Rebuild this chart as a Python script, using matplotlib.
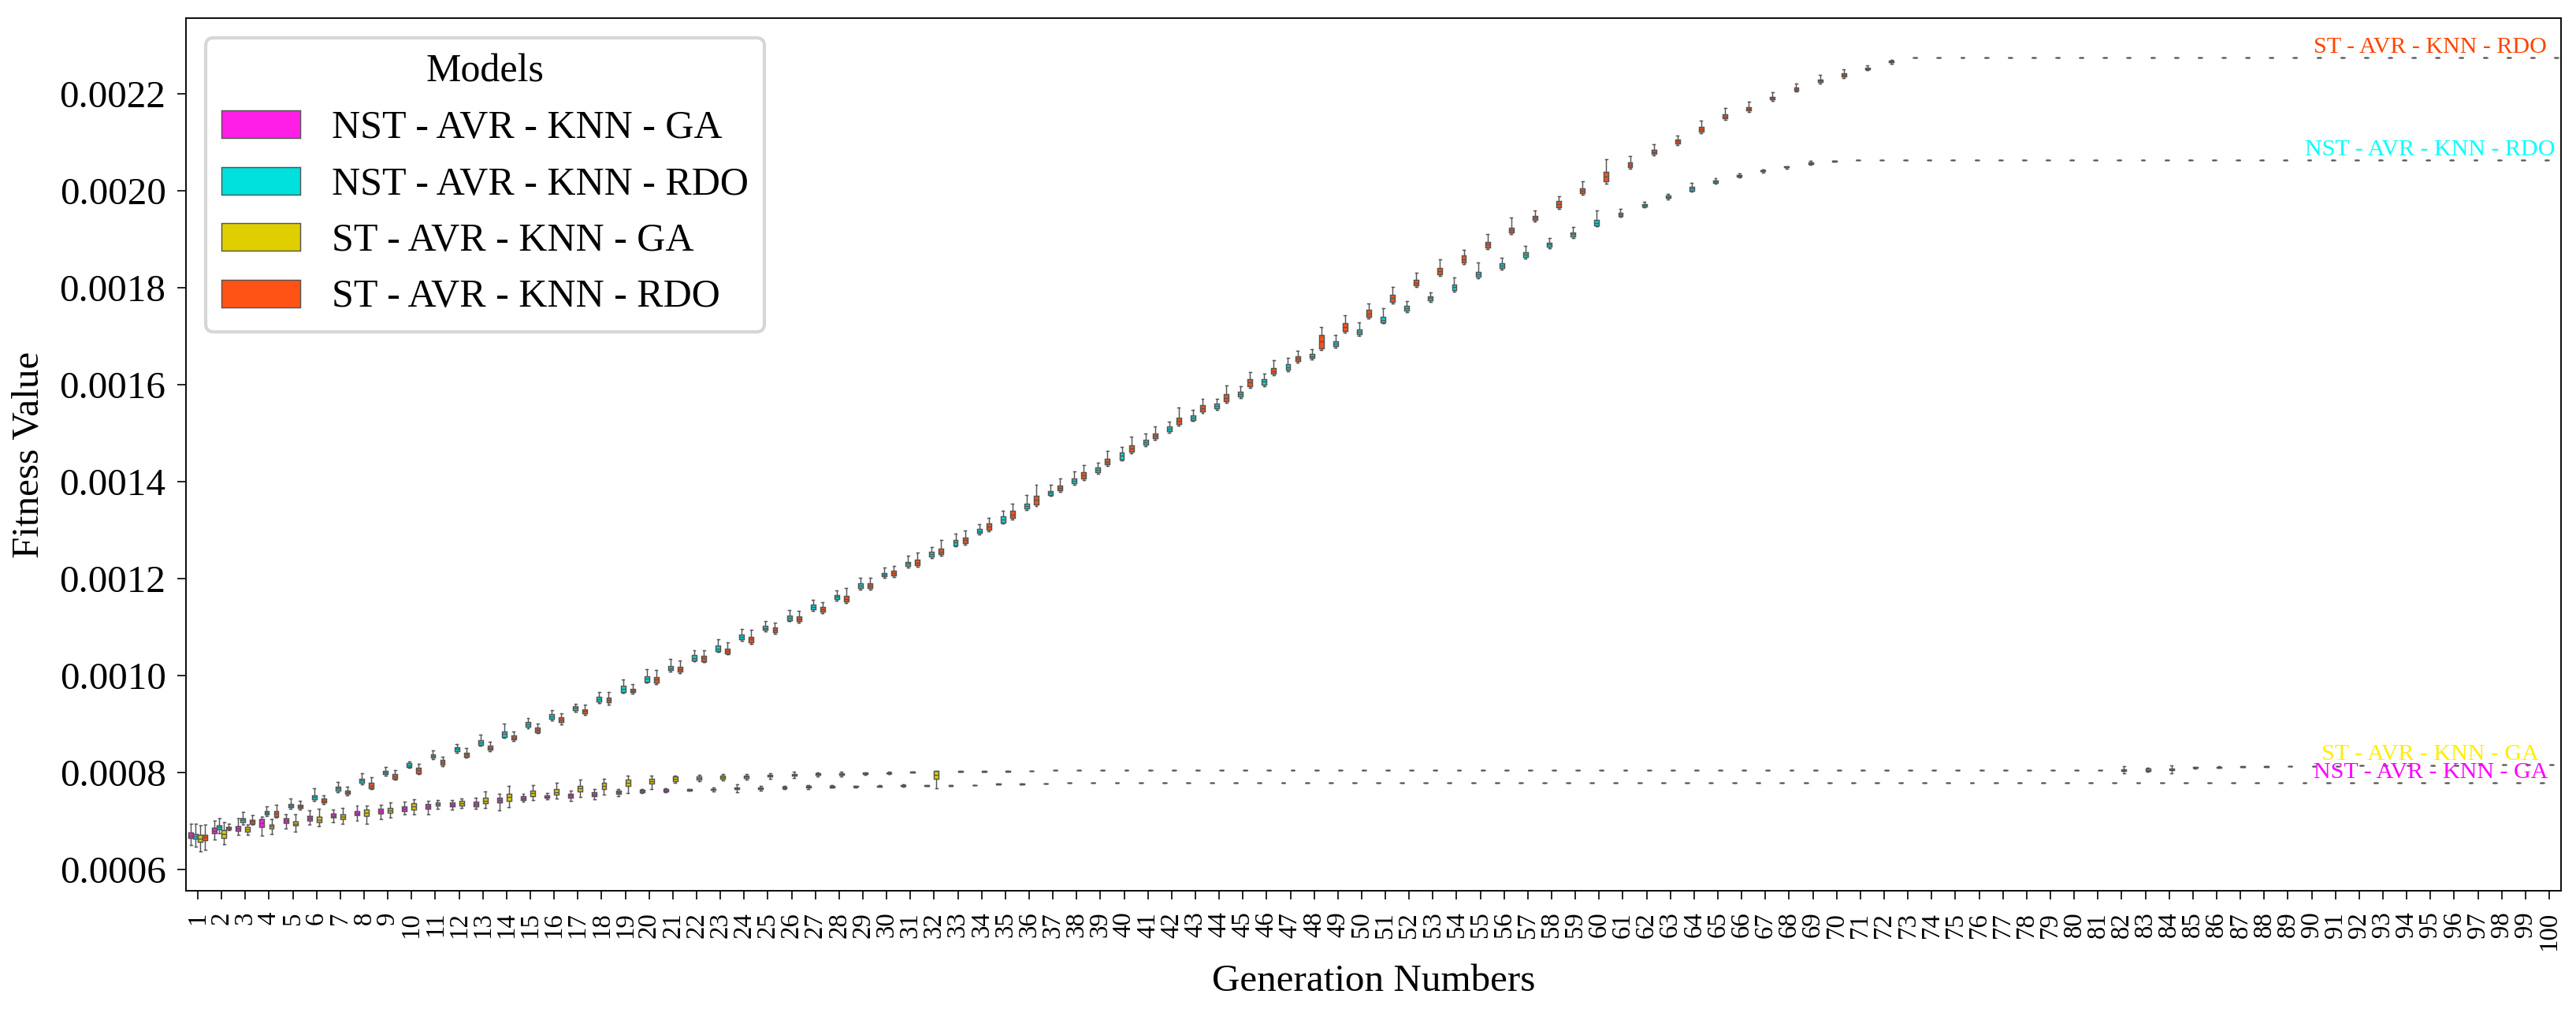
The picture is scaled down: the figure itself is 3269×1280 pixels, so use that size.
import numpy as np
import matplotlib
matplotlib.use("Agg")
import matplotlib.pyplot as plt
from matplotlib.patches import Patch
from matplotlib.ticker import FormatStrFormatter

plt.rcParams['font.family'] = ['Liberation Serif', 'DejaVu Serif']

generations = list(range(1, 101))
models = ["NST - AVR - KNN - GA", "NST - AVR - KNN - RDO",
          "ST - AVR - KNN - GA", "ST - AVR - KNN - RDO"]
box_colors = ["#FF1EE6", "#00E0DC", "#E0CF00", "#FF5215"]
text_colors = ["magenta", "cyan", "#FFEE00", "orangered"]

# ---- medians (units of 1e-4) ----
med_nst_ga = ([6.705, 6.80, 6.85, 6.96, 7.01, 7.06, 7.11, 7.16, 7.20, 7.25, 7.30,
               7.34, 7.35, 7.43, 7.47, 7.50, 7.52, 7.55, 7.59, 7.62, 7.63, 7.64,
               7.65, 7.67, 7.67, 7.69, 7.70, 7.71, 7.71, 7.72, 7.73, 7.73, 7.73,
               7.74, 7.76, 7.76, 7.77] + [7.78] * 63)
med_nst_rdo = ([6.68, 6.87, 7.02, 7.17, 7.32, 7.49, 7.67, 7.83, 8.00, 8.15, 8.34,
                8.48, 8.62, 8.79, 8.99, 9.15, 9.33, 9.51, 9.72, 9.93, 10.15, 10.36,
                10.56, 10.79, 10.98, 11.19, 11.41, 11.62, 11.85, 12.08, 12.30, 12.50,
                12.74, 12.98, 13.22, 13.49, 13.77, 14.02, 14.24, 14.53, 14.81, 15.09,
                15.32, 15.56, 15.80, 16.06, 16.36, 16.59, 16.85, 17.09, 17.34, 17.57,
                17.78, 18.01, 18.27, 18.46, 18.68, 18.89, 19.10, 19.34, 19.51, 19.70,
                19.87, 20.04, 20.19, 20.31, 20.41, 20.49, 20.57, 20.61] + [20.63] * 30)
med_st_ga = ([6.64, 6.73, 6.83, 6.89, 6.95, 7.03, 7.09, 7.17, 7.22, 7.30, 7.35,
              7.37, 7.42, 7.49, 7.57, 7.60, 7.67, 7.72, 7.79, 7.82, 7.87, 7.88,
              7.90, 7.91, 7.93, 7.95, 7.96, 7.97, 7.98, 7.99, 8.01, 7.95, 8.02,
              8.02, 8.025, 8.03] + [8.04] * 45 +
             [8.054, 8.054, 8.065, 8.10, 8.11, 8.12, 8.125, 8.125, 8.135, 8.135,
              8.14, 8.14, 8.145, 8.15, 8.15, 8.155, 8.16, 8.16, 8.163])
med_st_rdo = ([6.66, 6.86, 6.99, 7.15, 7.30, 7.42, 7.59, 7.73, 7.92, 8.04, 8.21,
               8.37, 8.51, 8.72, 8.88, 9.09, 9.26, 9.49, 9.69, 9.91, 10.13, 10.35,
               10.51, 10.74, 10.94, 11.17, 11.36, 11.58, 11.85, 12.11, 12.33, 12.56,
               12.79, 13.07, 13.32, 13.62, 13.87, 14.13, 14.41, 14.68, 14.94, 15.25,
               15.51, 15.73, 16.04, 16.28, 16.53, 16.89, 17.19, 17.47, 17.78, 18.10,
               18.34, 18.59, 18.89, 19.19, 19.44, 19.72, 20.00, 20.29, 20.53, 20.80,
               21.02, 21.27, 21.53, 21.69, 21.91, 22.10, 22.27, 22.39, 22.52, 22.66]
              + [22.75] * 28)

# ---- box heights (IQR, units of 1e-6) ----
box_nst_ga = ([11, 12, 10, 15, 9, 9, 8, 8, 9, 10, 9, 7, 9, 11, 7, 5, 7, 7, 7, 5, 4, 2,
               3, 4, 3, 4, 3, 3, 2, 2, 2, 1, 1, 1, 1, 1, 1] + [0] * 63)
box_nst_rdo = ([10, 8, 8, 8, 7, 9, 8, 9, 7, 8, 8, 8, 10, 12, 9, 10, 8, 11, 12, 11, 8, 11,
                10, 10, 9, 9, 9, 8, 9, 8, 9, 9, 10, 9, 12, 10, 8, 10, 10, 14, 9, 10,
                9, 10, 10, 12, 12, 9, 10, 11, 10, 10, 8, 12, 10, 10, 9, 8, 9, 10, 6, 5,
                5, 7, 5, 4, 2, 2, 3, 1] + [0] * 30)
box_st_ga = ([14, 16, 10, 8, 9, 12, 11, 14, 9, 12, 7, 10, 11, 14, 11, 12, 11, 12, 14, 10, 9, 7,
              6, 5, 4, 4, 3, 3, 3, 2, 1, 15, 1, 1, 1, 0] + [0] * 45 +
             [3, 4, 3, 2, 2, 1, 1] + [0] * 12)
box_st_rdo = ([12, 5, 8, 11, 8, 7, 7, 11, 10, 10, 9, 8, 8, 9, 10, 9, 9, 10, 8, 12, 10, 11,
               10, 12, 10, 10, 10, 12, 10, 10, 12, 12, 12, 12, 14, 18, 10, 14, 12, 14, 10, 14,
               12, 14, 16, 12, 10, 28, 16, 14, 14, 12, 12, 14, 12, 10, 8, 12, 10, 20, 10, 8,
               8, 10, 8, 6, 5, 6, 5, 6, 4, 3] + [0] * 28)

# ---- whisker length below Q1 (units of 1e-6) ----
wlo_nst_ga = ([14, 12, 8, 18, 12, 9, 10, 12, 11, 7, 11, 7, 5, 15, 4, 3, 7, 7, 4, 2, 2, 1,
               2, 6, 3, 2, 2, 1, 1, 1, 1, 1, 0, 0, 0, 0, 0] + [0] * 63)
wlo_nst_rdo = ([16, 8, 5, 3, 3, 3, 3, 3, 3, 2, 3, 3, 2, 2, 3, 3, 4, 3, 2, 2, 3, 1] +
               [3] * 38 + [2] * 9 + [1] + [0] * 30)
wlo_st_ga = ([20, 13, 7, 12, 12, 8, 10, 16, 10, 10, 7, 5, 10, 14, 9, 7, 12, 11, 14, 11, 3, 3,
              4, 3, 4, 4, 2, 3, 1, 1, 0, 20, 0, 0, 0, 0] + [0] * 45 +
             [6, 2, 6, 1, 1, 0, 0] + [0] * 12)
wlo_st_rdo = ([20, 2, 2, 3, 2, 3, 3, 2, 2, 3, 3, 2, 3, 2, 2, 5, 3, 4, 3, 3, 3, 2] +
              [3] * 13 + [4] + [3] * 11 + [4] + [3] * 11 + [4] + [3] * 10 + [2, 2] + [0] * 28)

# ---- whisker length above Q3 (units of 1e-6) ----
whi_nst_ga = ([18, 14, 15, 5, 9, 11, 8, 12, 8, 9, 7, 5, 8, 7, 5, 5, 7, 8, 4, 2, 2, 1,
               2, 6, 3, 2, 2, 1, 1, 1, 1, 1, 0, 0, 0, 0, 0] + [0] * 63)
whi_nst_rdo = ([21, 14, 12, 9, 10, 14, 9, 11, 8, 4, 8, 7, 11, 15, 8, 9, 5, 10, 14, 14, 15, 10,
                14, 12, 10, 12, 10, 10, 12, 10, 12, 10, 14, 10, 12, 18, 12, 14, 10, 12, 14, 10,
                12, 10, 12, 10, 14, 10, 12, 14, 18, 10, 8, 14, 20, 10, 14, 10, 10, 20, 8, 4,
                4, 8, 4, 3, 1, 1, 3, 1] + [0] * 30)
whi_st_ga = ([20, 16, 5, 11, 14, 16, 12, 8, 11, 8, 4, 5, 14, 17, 12, 12, 12, 9, 8, 7, 2, 4,
              4, 3, 4, 4, 2, 3, 1, 1, 0, 0, 0, 0, 0, 0] + [0] * 45 +
             [6, 2, 6, 1, 1, 0, 0] + [0] * 12)
whi_st_rdo = ([20, 5, 9, 12, 7, 7, 8, 11, 8, 8, 7, 10, 8, 8, 8, 8, 10, 12, 9, 15, 13, 11,
               12, 14, 10, 12, 10, 16, 12, 10, 14, 18, 14, 12, 16, 22, 14, 14, 16, 18, 14, 20,
               14, 18, 14, 16, 12, 16, 16, 14, 16, 14, 18, 12, 16, 20, 12, 10, 14, 26, 14, 12,
               8, 12, 14, 12, 10, 8, 10, 8, 4, 3] + [0] * 28)

medians = [med_nst_ga, med_nst_rdo, med_st_ga, med_st_rdo]
boxes = [box_nst_ga, box_nst_rdo, box_st_ga, box_st_rdo]
wlos = [wlo_nst_ga, wlo_nst_rdo, wlo_st_ga, wlo_st_rdo]
whis = [whi_nst_ga, whi_nst_rdo, whi_st_ga, whi_st_rdo]

W, H, DPI = 3269, 1280, 300
fig = plt.figure(figsize=(W / DPI, H / DPI), dpi=DPI)
ax = fig.add_axes([236 / W, 1 - 1130 / H, (3250 - 236) / W, (1130 - 23) / H])

gray = "#555555"
lw = 0.35
n = len(generations)
hue_w = 0.8 / len(models)
for k, name in enumerate(models):
    pos = np.arange(n) + (k - (len(models) - 1) / 2) * hue_w
    stats = []
    for m, b, lo, hi in zip(medians[k], boxes[k], wlos[k], whis[k]):
        med = m * 1e-4
        q1 = med - b * 1e-6 / 2
        q3 = med + b * 1e-6 / 2
        stats.append(dict(med=med, q1=q1, q3=q3, whislo=q1 - lo * 1e-6,
                          whishi=q3 + hi * 1e-6, fliers=[]))
    ax.bxp(stats, positions=pos, widths=hue_w * 0.98, patch_artist=True,
           showfliers=False, manage_ticks=False,
           boxprops=dict(facecolor=box_colors[k], edgecolor=gray, linewidth=lw),
           medianprops=dict(color=gray, linewidth=lw),
           whiskerprops=dict(color=gray, linewidth=lw),
           capprops=dict(color=gray, linewidth=lw))

# end-of-run labels
for k, name in enumerate(models):
    ax.text(n - 6, medians[k][-1] * 1e-4 + 1e-5, name, color=text_colors[k],
            fontsize=7.2, ha="center", va="baseline", zorder=5)

ax.set_xlim(-0.5, n - 0.5)
ax.set_ylim(0.000556, 0.002356)
ax.set_xticks(np.arange(n))
ax.set_xticklabels([str(g) for g in generations], rotation=90, fontsize=7.9)
yt = np.arange(6, 23, 2) * 1e-4
ax.set_yticks(yt)
ax.yaxis.set_major_formatter(FormatStrFormatter('%.4f'))
ax.tick_params(axis='y', labelsize=11.8, length=2.6, width=0.4)
ax.tick_params(axis='x', length=2.6, width=0.4, pad=3.8)
for s in ax.spines.values():
    s.set_linewidth(0.45)

ax.set_xlabel("Generation Numbers", fontsize=11.8)
ax.set_ylabel("Fitness Value", fontsize=11.8)

handles = [Patch(facecolor=c, edgecolor=gray, linewidth=lw) for c in box_colors]
ax.legend(handles, models, title="Models", loc="upper left", fontsize=12,
          title_fontsize=12)

fig.savefig("out.png", dpi=DPI)
